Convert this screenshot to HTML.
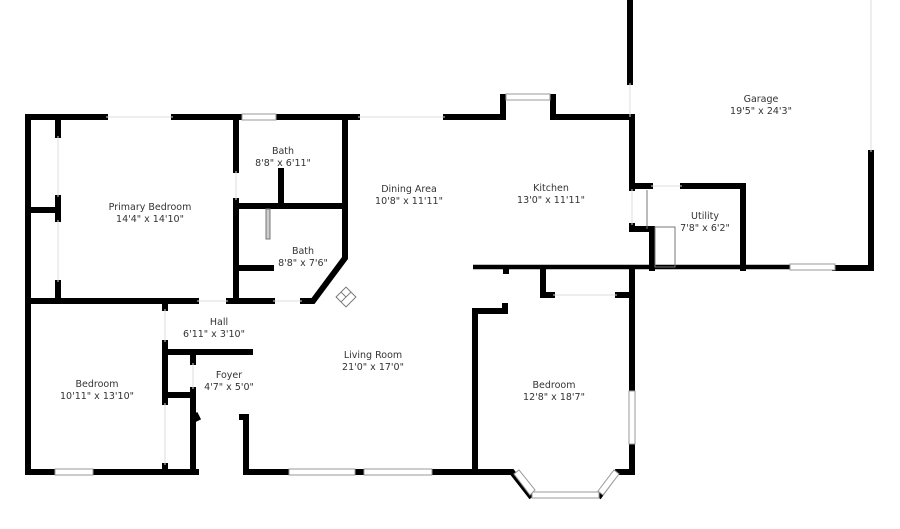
<!DOCTYPE html>
<html><head><meta charset="utf-8"><style>
html,body{margin:0;padding:0;background:#fff;}
svg{display:block;}
text{font-family:"DejaVu Sans","Liberation Sans",sans-serif;font-size:9.5px;fill:#333;text-anchor:middle;}
</style></head><body>
<svg width="900" height="529" viewBox="0 0 900 529" xmlns="http://www.w3.org/2000/svg">
<g stroke="#000" stroke-width="6" fill="none" stroke-linecap="square">
<!-- top walls -->
<line x1="28" y1="117" x2="105" y2="117"/>
<line x1="174" y1="117" x2="241" y2="117"/>
<line x1="277" y1="117" x2="357" y2="117"/>
<line x1="446" y1="117" x2="503" y2="117"/>
<polyline points="503,117 503,97 506,97"/>
<polyline points="550,97 553,97 553,117 632,117"/>
<!-- left outer -->
<line x1="28" y1="117" x2="28" y2="472"/>
<!-- bottom left bedroom -->
<line x1="28" y1="472" x2="54" y2="472"/>
<line x1="93" y1="472" x2="196" y2="472"/>
<line x1="193" y1="390" x2="193" y2="472"/>
<!-- primary closet -->
<line x1="58" y1="120" x2="58" y2="135"/>
<line x1="58" y1="198" x2="58" y2="219"/>
<line x1="28" y1="210" x2="58" y2="210"/>
<line x1="58" y1="283" x2="58" y2="300"/>
<!-- y=300 line -->
<line x1="28" y1="301" x2="196" y2="301"/>
<line x1="229" y1="301" x2="272" y2="301"/>
<polyline points="303,301 313,301 345,258 345,117"/>
<line x1="165" y1="301" x2="165" y2="308"/>
<!-- bath walls -->
<line x1="236" y1="117" x2="236" y2="170"/>
<line x1="236" y1="201" x2="236" y2="301"/>
<line x1="236" y1="206" x2="345" y2="206"/>
<line x1="281" y1="171" x2="281" y2="206"/>
<line x1="236" y1="268" x2="271" y2="268"/>
<!-- hall / foyer -->
<line x1="165" y1="343" x2="165" y2="402"/>
<line x1="165" y1="466" x2="165" y2="472"/>
<line x1="165" y1="352" x2="250" y2="352"/>
<line x1="193" y1="355" x2="193" y2="362"/>
<line x1="165" y1="395" x2="193" y2="395"/>
<line x1="196" y1="416" x2="197" y2="418"/>
<polyline points="242,417 246,417 246,472 288,472"/>
<line x1="356" y1="472" x2="363" y2="472"/>
<polyline points="433,472 512,472 530,495"/>
<polyline points="600,495 617,472 632,472 632,445"/>
<line x1="632" y1="390" x2="632" y2="268"/>
<!-- right bedroom left -->
<polyline points="475,472 475,311 505,311 505,306"/>
<!-- kitchen lower -->
<polyline points="543,268 543,295 552,295"/>
<line x1="618" y1="295" x2="632" y2="295"/>
<line x1="506" y1="268" x2="506" y2="271"/>
<!-- right side -->
<line x1="632" y1="117" x2="632" y2="188"/>
<line x1="632" y1="186" x2="650" y2="186"/>
<polyline points="683,186 743,186 743,268"/>
<polyline points="632,226 632,229 652,229 652,268"/>
<line x1="630" y1="0" x2="630" y2="82"/>
<line x1="871" y1="153" x2="871" y2="268"/>
<line x1="835" y1="268" x2="871" y2="268"/>
</g>
<g stroke="#000" stroke-width="4.5" fill="none">
<line x1="473" y1="267" x2="790" y2="267"/>
</g>
<!-- windows / thin lines -->
<g stroke="#999" stroke-width="1" fill="#fff">
<rect x="242" y="114" width="34" height="6"/>
<rect x="506" y="94" width="44" height="6"/>
<rect x="55" y="469" width="38" height="6"/>
<rect x="289" y="469" width="66" height="6"/>
<rect x="364" y="469" width="68" height="6"/>
<rect x="532" y="492" width="67" height="6"/>
<rect x="629" y="391" width="6" height="53"/>
<rect x="790" y="264" width="45" height="6"/>
<polygon points="514,474 519,470 535,490 530,495" />
<polygon points="614,470 619,474 603,495 598,491" />
</g>
<g stroke="#ddd" stroke-width="1" fill="none">
<line x1="106" y1="117" x2="173" y2="117"/>
<line x1="358" y1="117" x2="445" y2="117"/>
<line x1="58" y1="136" x2="58" y2="197"/>
<line x1="58" y1="220" x2="58" y2="282"/>
<line x1="236" y1="171" x2="236" y2="200"/>
<line x1="197" y1="301" x2="228" y2="301"/>
<line x1="273" y1="301" x2="302" y2="301"/>
<line x1="165" y1="309" x2="165" y2="342"/>
<line x1="165" y1="403" x2="165" y2="465"/>
<line x1="193" y1="363" x2="193" y2="389"/>
<line x1="553" y1="295" x2="617" y2="295"/>
<line x1="651" y1="186" x2="682" y2="186"/>
<line x1="630" y1="83" x2="630" y2="117"/>
<line x1="871" y1="0" x2="871" y2="152"/>
<line x1="632" y1="189" x2="632" y2="225"/>
</g>
<g stroke="#777" stroke-width="1" fill="none">
<rect x="655" y="227" width="20" height="40"/>
<line x1="647" y1="190" x2="647" y2="229"/>
<rect x="266" y="209" width="4" height="30" fill="#ccc"/>
<g transform="translate(346,297) rotate(45)"><rect x="-7" y="-7" width="14" height="14"/><line x1="-7" y1="0" x2="0" y2="0"/><line x1="0" y1="-7" x2="0" y2="7"/></g>
</g>
<text x="150" y="210">Primary Bedroom</text><text x="150" y="222">14'4" x 14'10"</text>
<text x="283" y="154">Bath</text><text x="283" y="166">8'8" x 6'11"</text>
<text x="303" y="254">Bath</text><text x="303" y="266">8'8" x 7'6"</text>
<text x="409" y="192">Dining Area</text><text x="409" y="204">10'8" x 11'11"</text>
<text x="551" y="191">Kitchen</text><text x="551" y="203">13'0" x 11'11"</text>
<text x="761" y="102">Garage</text><text x="761" y="114">19'5" x 24'3"</text>
<text x="705" y="219">Utility</text><text x="705" y="231">7'8" x 6'2"</text>
<text x="219" y="325">Hall</text><text x="214" y="337">6'11" x 3'10"</text>
<text x="229" y="378">Foyer</text><text x="229" y="390">4'7" x 5'0"</text>
<text x="373" y="358">Living Room</text><text x="373" y="370">21'0" x 17'0"</text>
<text x="97" y="387">Bedroom</text><text x="97" y="399">10'11" x 13'10"</text>
<text x="554" y="388">Bedroom</text><text x="554" y="400">12'8" x 18'7"</text>
</svg>
</body></html>
